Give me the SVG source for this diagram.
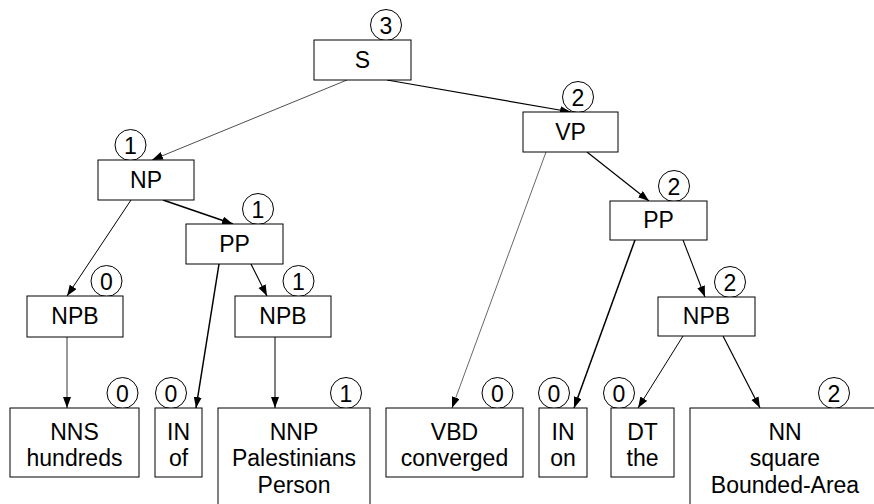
<svg xmlns="http://www.w3.org/2000/svg" width="874" height="504" viewBox="0 0 874 504">
  <style>
    .box { fill: #ffffff; stroke: #000000; stroke-width: 1; }
    .ring { fill: #ffffff; stroke: #000000; stroke-width: 1; }
    .lbl { font-family: "Liberation Sans", Arial, sans-serif; font-size: 23px; fill: #000000; text-anchor: middle; }
    .num { font-family: "Liberation Sans", Arial, sans-serif; font-size: 23px; fill: #000000; text-anchor: middle; }
    .edge { stroke: #000000; fill: none; marker-end: url(#head); }
  </style>
  <defs>
    <marker id="head" markerUnits="userSpaceOnUse" markerWidth="12" markerHeight="10" refX="11" refY="4" orient="auto">
      <path d="M0,0 L11,4 L0,8 Z" fill="#000000"/>
    </marker>
  </defs>
  <rect x="0" y="0" width="874" height="504" fill="#ffffff"/>

  <g id="connectors">
    <line class="edge" x1="347" y1="80" x2="152" y2="160" stroke-width="0.7"/>
    <line class="edge" x1="387" y1="80" x2="571" y2="112" stroke-width="1.2"/>
    <line class="edge" x1="131" y1="200" x2="67" y2="296" stroke-width="1"/>
    <line class="edge" x1="163" y1="200" x2="233" y2="224" stroke-width="1.5"/>
    <line class="edge" x1="219" y1="264" x2="196" y2="408" stroke-width="1.5"/>
    <line class="edge" x1="251" y1="264" x2="267" y2="296" stroke-width="1.2"/>
    <line class="edge" x1="67" y1="337" x2="67" y2="408" stroke-width="0.8"/>
    <line class="edge" x1="275" y1="337" x2="275" y2="408" stroke-width="1"/>
    <line class="edge" x1="546" y1="152" x2="452" y2="408" stroke-width="0.6"/>
    <line class="edge" x1="587" y1="152" x2="649" y2="201" stroke-width="1.2"/>
    <line class="edge" x1="635" y1="240" x2="574" y2="408" stroke-width="1.5"/>
    <line class="edge" x1="683" y1="240" x2="705" y2="297" stroke-width="1.1"/>
    <line class="edge" x1="683" y1="336" x2="638" y2="408" stroke-width="1"/>
    <line class="edge" x1="723" y1="336" x2="760" y2="408" stroke-width="1.2"/>
  </g>

  <g id="node-S">
    <circle class="ring" cx="386" cy="25" r="15.5"/>
    <text class="num" x="386" y="33.5">3</text>
    <rect class="box" x="314" y="40" width="97" height="40"/>
    <text class="lbl" x="362.5" y="68">S</text>
  </g>

  <g id="node-VP">
    <circle class="ring" cx="578" cy="97" r="15.5"/>
    <text class="num" x="578" y="105.5">2</text>
    <rect class="box" x="523" y="112" width="95" height="40"/>
    <text class="lbl" x="570.5" y="140">VP</text>
  </g>

  <g id="node-NP">
    <circle class="ring" cx="130.5" cy="145" r="15.5"/>
    <text class="num" x="130.5" y="153.5">1</text>
    <rect class="box" x="98" y="160" width="96" height="40"/>
    <text class="lbl" x="146" y="188">NP</text>
  </g>

  <g id="node-PP-left">
    <circle class="ring" cx="258" cy="209" r="15.5"/>
    <text class="num" x="258" y="217.5">1</text>
    <rect class="box" x="186" y="224" width="97" height="40"/>
    <text class="lbl" x="234.5" y="252">PP</text>
  </g>

  <g id="node-NPB-left">
    <circle class="ring" cx="106.5" cy="281" r="15.5"/>
    <text class="num" x="106.5" y="289.5">0</text>
    <rect class="box" x="27" y="296" width="96" height="41"/>
    <text class="lbl" x="75" y="324">NPB</text>
  </g>

  <g id="node-NPB-mid">
    <circle class="ring" cx="298.5" cy="281" r="15.5"/>
    <text class="num" x="298.5" y="289.5">1</text>
    <rect class="box" x="235" y="296" width="96" height="41"/>
    <text class="lbl" x="283" y="324">NPB</text>
  </g>

  <g id="node-PP-right">
    <circle class="ring" cx="674" cy="186" r="15.5"/>
    <text class="num" x="674" y="194.5">2</text>
    <rect class="box" x="610" y="201" width="97" height="39"/>
    <text class="lbl" x="658.5" y="228">PP</text>
  </g>

  <g id="node-NPB-right">
    <circle class="ring" cx="730" cy="282" r="15.5"/>
    <text class="num" x="730" y="290.5">2</text>
    <rect class="box" x="658" y="297" width="97" height="39"/>
    <text class="lbl" x="706.5" y="324">NPB</text>
  </g>

  <g id="leaf-NNS">
    <circle class="ring" cx="122.5" cy="393" r="15.5"/>
    <text class="num" x="122.5" y="401.5">0</text>
    <rect class="box" x="10" y="408" width="129" height="69"/>
    <text class="lbl" x="74.5" y="440">NNS</text>
    <text class="lbl" x="74.5" y="466">hundreds</text>
  </g>

  <g id="leaf-IN-of">
    <circle class="ring" cx="171" cy="393" r="15.5"/>
    <text class="num" x="171" y="401.5">0</text>
    <rect class="box" x="155" y="408" width="47" height="69"/>
    <text class="lbl" x="178.5" y="440">IN</text>
    <text class="lbl" x="178.5" y="466">of</text>
  </g>

  <g id="leaf-NNP">
    <circle class="ring" cx="346" cy="393" r="15.5"/>
    <text class="num" x="346" y="401.5">1</text>
    <rect class="box" x="218" y="408" width="152" height="110"/>
    <text class="lbl" x="294" y="440">NNP</text>
    <text class="lbl" x="294" y="466">Palestinians</text>
    <text class="lbl" x="294" y="493">Person</text>
  </g>

  <g id="leaf-VBD">
    <circle class="ring" cx="497.5" cy="393" r="15.5"/>
    <text class="num" x="497.5" y="401.5">0</text>
    <rect class="box" x="386" y="408" width="137" height="69"/>
    <text class="lbl" x="454.5" y="440">VBD</text>
    <text class="lbl" x="454.5" y="466">converged</text>
  </g>

  <g id="leaf-IN-on">
    <circle class="ring" cx="554" cy="393" r="15.5"/>
    <text class="num" x="554" y="401.5">0</text>
    <rect class="box" x="539" y="408" width="48" height="69"/>
    <text class="lbl" x="563" y="440">IN</text>
    <text class="lbl" x="563" y="466">on</text>
  </g>

  <g id="leaf-DT">
    <circle class="ring" cx="619" cy="393" r="15.5"/>
    <text class="num" x="619" y="401.5">0</text>
    <rect class="box" x="611" y="408" width="63" height="69"/>
    <text class="lbl" x="642.5" y="440">DT</text>
    <text class="lbl" x="642.5" y="466">the</text>
  </g>

  <g id="leaf-NN">
    <circle class="ring" cx="834" cy="393" r="15.5"/>
    <text class="num" x="834" y="401.5">2</text>
    <rect class="box" x="690" y="408" width="200" height="110"/>
    <text class="lbl" x="785" y="440">NN</text>
    <text class="lbl" x="785" y="466">square</text>
    <text class="lbl" x="785" y="493">Bounded-Area</text>
  </g>
</svg>
